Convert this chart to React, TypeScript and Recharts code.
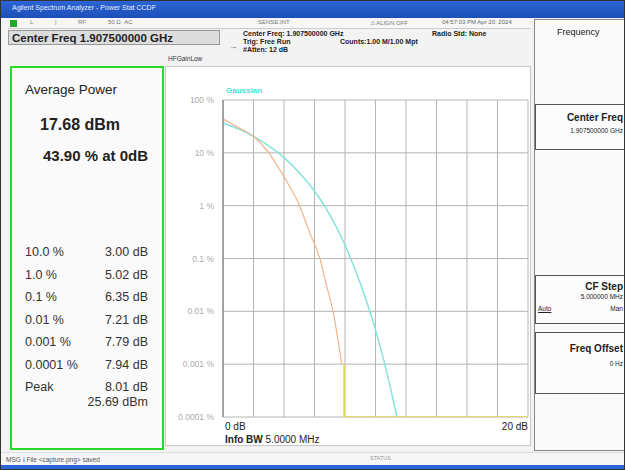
import React from 'react';
import { LineChart, Line, XAxis, YAxis, CartesianGrid } from 'recharts';

// x positions in dB, y values in percent (log axis)
const gaussianDb = [0, 1, 2, 3, 4, 5, 6, 7, 8, 9, 10, 11, 11.4];
const gaussianPct = [36.8, 28.4, 20.5, 13.5, 8.1, 4.2, 1.9, 0.68, 0.18, 0.034, 0.0045, 0.00034, 0.0001];

const measuredDb = [0, 1, 2, 3, 4, 5.02, 5.7, 6.35, 6.8, 7.21, 7.79];
const measuredPct = [43.9, 30, 20.5, 10, 3.5, 1, 0.3, 0.1, 0.03, 0.01, 0.001];

const tailDb = [7.94, 7.94, 20];
const tailPct = [0.001, 0.0001, 0.0001];

const xTicks = [0, 2, 4, 6, 8, 10, 12, 14, 16, 18, 20];
const yTicks = [0.0001, 0.001, 0.01, 0.1, 1, 10, 100];
const yTickLabels = ['0.0001 %', '0.001 %', '0.01 %', '0.1 %', '1 %', '10 %', '100 %'];

const tableLabels = ['10.0 %', '1.0 %', '0.1 %', '0.01 %', '0.001 %', '0.0001 %', 'Peak'];
const tableValues = ['3.00 dB', '5.02 dB', '6.35 dB', '7.21 dB', '7.79 dB', '7.94 dB', '8.01 dB'];

const zip = (xs: number[], ys: number[]) => xs.map((x, i) => ({ x, y: ys[i] }));

const FONT = '"Liberation Sans", Arial, sans-serif';

const abs = (left: number, top: number, extra: React.CSSProperties = {}): React.CSSProperties => ({
  position: 'absolute',
  left,
  top,
  whiteSpace: 'nowrap',
  ...extra,
});

const YTick = (props: any) => {
  const { x, y, payload } = props;
  return (
    <text x={x - 1} y={y} dy={3} textAnchor="end" fill="#ababab" fontSize={8.5} fontFamily={FONT}>
      {yTickLabels[yTicks.indexOf(payload.value)] ?? ''}
    </text>
  );
};

const App: React.FC = () => {
  const gaussian = zip(gaussianDb, gaussianPct);
  const measured = zip(measuredDb, measuredPct);
  const tail = zip(tailDb, tailPct);

  return (
    <div
      style={{
        position: 'absolute',
        left: 0,
        top: 0,
        width: 625,
        height: 470,
        overflow: 'hidden',
        background: '#f3f3f3',
        fontFamily: FONT,
        color: '#222',
      }}
    >
      {/* title bar */}
      <div style={abs(0, 0, { width: 625, height: 18, background: 'linear-gradient(#2c66d6, #1d4fb8)' })} />
      <div style={abs(12, 4, { fontSize: 7, color: '#e8eeff' })}>Agilent Spectrum Analyzer - Power Stat CCDF</div>

      {/* status row */}
      <div style={abs(8, 19, { width: 522, height: 9, background: '#f7f7f7', borderBottom: '1px solid #ccc' })} />
      <div style={abs(10, 20, { width: 7, height: 7, background: '#1fa82a' })} />
      <div style={abs(30, 19, { fontSize: 6, color: '#777' })}>L</div>
      <div style={abs(55, 19, { fontSize: 6, color: '#777' })}>|</div>
      <div style={abs(78, 19, { fontSize: 6, color: '#777' })}>RF</div>
      <div style={abs(108, 19, { fontSize: 6, color: '#777' })}>50 Ω&nbsp;&nbsp;AC</div>
      <div style={abs(258, 19, { fontSize: 6, color: '#777' })}>SENSE:INT</div>
      <div style={abs(370, 19, { fontSize: 6, color: '#777' })}>⚠ ALIGN OFF</div>
      <div style={abs(442, 19, { fontSize: 6, color: '#666' })}>04:57:03 PM Apr 20, 2024</div>

      {/* header */}
      <div
        style={abs(8, 30, {
          width: 212,
          height: 15,
          background: '#dcdcdc',
          border: '1px solid #999',
          fontSize: 11.5,
          fontWeight: 'bold',
          lineHeight: '15px',
          paddingLeft: 3,
          boxSizing: 'border-box',
        })}
      >
        Center Freq 1.907500000 GHz
      </div>
      <div style={abs(243, 30, { fontSize: 7, fontWeight: 'bold', lineHeight: '8px' })}>
        Center Freq: 1.907500000 GHz
        <br />
        Trig: Free Run
        <br />
        #Atten: 12 dB
      </div>
      <div style={abs(340, 38, { fontSize: 7, fontWeight: 'bold' })}>Counts:1.00 M/1.00 Mpt</div>
      <div style={abs(432, 30, { fontSize: 7, fontWeight: 'bold' })}>Radio Std: None</div>
      <div style={abs(229, 42, { fontSize: 8, color: '#333' })}>→</div>
      <div style={abs(168, 55, { fontSize: 6.5, color: '#333' })}>HFGainLow</div>

      {/* left result panel */}
      <div style={abs(10, 66, { width: 154, height: 384, border: '2px solid #2ad82a', background: '#fafafa', boxSizing: 'border-box' })} />
      <div style={abs(25, 82, { fontSize: 13.5, color: '#222' })}>Average Power</div>
      <div style={abs(40, 116, { fontSize: 16, fontWeight: 'bold' })}>17.68 dBm</div>
      <div style={abs(43, 147, { fontSize: 15, fontWeight: 'bold' })}>43.90 % at 0dB</div>
      {tableLabels.map((label, i) => (
        <React.Fragment key={label}>
          <div style={abs(25, 245 + i * 22.5, { fontSize: 12.5, color: '#333' })}>{label}</div>
          <div style={abs(78, 245 + i * 22.5, { width: 70, textAlign: 'right', fontSize: 12.5, color: '#333' })}>
            {tableValues[i]}
          </div>
        </React.Fragment>
      ))}
      <div style={abs(60, 395, { width: 88, textAlign: 'right', fontSize: 12.5, color: '#333' })}>25.69 dBm</div>

      {/* plot panel */}
      <div style={abs(165, 66, { width: 366, height: 380, background: '#ffffff', border: '1px solid #c8c8c8', boxSizing: 'border-box' })} />
      <div style={abs(226, 86, { fontSize: 8, fontWeight: 'bold', color: '#3fe3da' })}>Gaussian</div>
      <div style={{ position: 'absolute', left: 165, top: 66 }}>
        <LineChart width={365} height={360} margin={{ top: 34, right: 2, bottom: 9, left: 0 }}>
          <CartesianGrid stroke="#b4b4b4" strokeWidth={1} />
          <XAxis
            dataKey="x"
            type="number"
            domain={[0, 20]}
            ticks={xTicks}
            interval={0}
            height={0}
            tick={() => <g />}
            tickLine={false}
            axisLine={{ stroke: '#6e6e6e' }}
          />
          <YAxis
            type="number"
            scale="log"
            domain={[0.0001, 100]}
            allowDataOverflow
            ticks={yTicks}
            interval={0}
            width={58}
            tickLine={false}
            axisLine={{ stroke: '#6e6e6e' }}
            tick={<YTick />}
          />
          <Line data={gaussian} dataKey="y" type="monotone" stroke="#86e4de" strokeWidth={1.5} dot={false} isAnimationActive={false} />
          <Line data={measured} dataKey="y" type="monotone" stroke="#f3b48a" strokeWidth={1.2} dot={false} isAnimationActive={false} />
          <Line data={tail} dataKey="y" type="linear" stroke="#e8d64a" strokeWidth={1.5} dot={false} isAnimationActive={false} />
        </LineChart>
      </div>
      <div style={abs(225, 421, { fontSize: 10 })}>0 dB</div>
      <div style={abs(478, 421, { width: 50, textAlign: 'right', fontSize: 10 })}>20 dB</div>
      <div style={abs(225, 434, { fontSize: 10 })}>
        <b>Info BW</b> 5.0000 MHz
      </div>

      {/* right softkey panel */}
      <div style={abs(534, 19, { width: 100, height: 432, background: '#fafafa', border: '1px solid #888', boxSizing: 'border-box' })} />
      <div style={abs(557, 27, { fontSize: 9 })}>Frequency</div>
      <div style={abs(535, 104, { width: 100, height: 46, border: '1px solid #555', boxSizing: 'border-box', background: '#fcfcfc' })} />
      <div style={abs(535, 112, { width: 88, textAlign: 'right', fontSize: 10, fontWeight: 'bold' })}>Center Freq</div>
      <div style={abs(535, 127, { width: 88, textAlign: 'right', fontSize: 6.5 })}>1.907500000 GHz</div>
      <div style={abs(535, 275, { width: 100, height: 49, border: '1px solid #555', boxSizing: 'border-box', background: '#fcfcfc' })} />
      <div style={abs(535, 281, { width: 88, textAlign: 'right', fontSize: 10, fontWeight: 'bold' })}>CF Step</div>
      <div style={abs(535, 293, { width: 88, textAlign: 'right', fontSize: 6.5 })}>5.000000 MHz</div>
      <div style={abs(538, 305, { fontSize: 6.5, textDecoration: 'underline' })}>Auto</div>
      <div style={abs(535, 305, { width: 88, textAlign: 'right', fontSize: 6.5 })}>Man</div>
      <div style={abs(535, 332, { width: 100, height: 62, border: '1px solid #555', boxSizing: 'border-box', background: '#fcfcfc' })} />
      <div style={abs(535, 343, { width: 88, textAlign: 'right', fontSize: 10, fontWeight: 'bold' })}>Freq Offset</div>
      <div style={abs(535, 360, { width: 88, textAlign: 'right', fontSize: 6.5 })}>0 Hz</div>

      {/* message bar */}
      <div style={abs(0, 452, { width: 625, height: 13, background: '#f6f6f6', borderTop: '1px solid #ddd' })} />
      <div style={abs(6, 455, { fontSize: 6.5, color: '#555' })}>
        MSG <span style={{ color: '#2a6ed8', fontWeight: 'bold' }}>ℹ</span> File &lt;capture.png&gt; saved
      </div>
      <div style={abs(370, 455, { fontSize: 5.5, color: '#999' })}>STATUS</div>
      <div style={abs(0, 465, { width: 625, height: 5, background: '#2c66d6' })} />
      <div style={abs(0, 0, { width: 625, height: 470, border: '1px solid #333', boxSizing: 'border-box' })} />
    </div>
  );
};

export default App;
